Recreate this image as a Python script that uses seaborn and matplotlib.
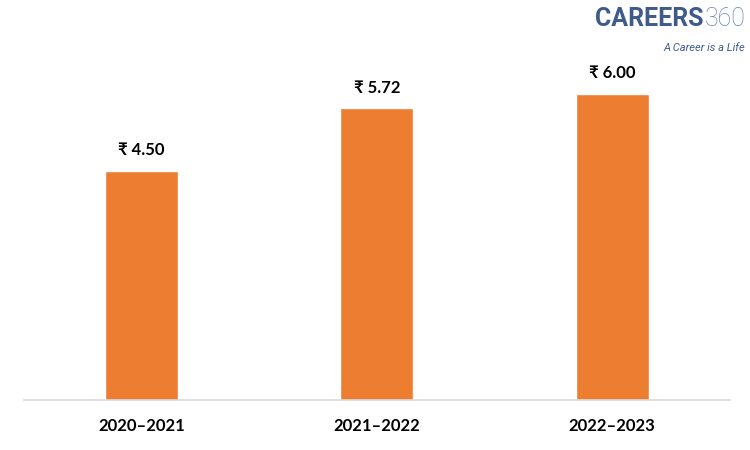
import seaborn as sns
import matplotlib.pyplot as plt
import pandas as pd

# Data
years = ["2020–2021", "2021–2022", "2022–2023"]
values = [4.50, 5.72, 6.00]

df = pd.DataFrame({"year": years, "value": values})

sns.set_style("white")
plt.rcParams['font.family'] = ['Lato', 'DejaVu Sans']

fig = plt.figure(figsize=(7.5, 4.5), dpi=100)
ax = fig.add_axes([0.032, 0.111, 0.941, 0.793])

sns.barplot(x="year", y="value", data=df, color="#ED7D31", saturation=1,
            width=0.31, ax=ax)

# Value labels
for i, v in enumerate(values):
    ax.text(i, v + 0.25, f"₹ {v:.2f}", ha="center", va="bottom",
            fontsize=12, fontweight="bold", color="black")

ax.set_xlim(-0.5, 2.5)
ax.set_ylim(0, 7)
ax.set_xlabel("")
ax.set_ylabel("")
ax.set_yticks([])
for s in ["top", "right", "left"]:
    ax.spines[s].set_visible(False)
ax.spines["bottom"].set_color("#D9D9D9")
ax.spines["bottom"].set_linewidth(1.2)
ax.tick_params(axis="x", length=0, pad=13)
for lbl in ax.get_xticklabels():
    lbl.set_fontsize(12)
    lbl.set_fontweight("bold")
    lbl.set_color("black")

# Logo
logo = fig.text(0.794, 0.957, "CAREERS", fontsize=18, fontweight="bold",
                color="#3F5B8C", family=["Roboto"],
                ha="left", va="center")
fig.canvas.draw()
bb = logo.get_window_extent(renderer=fig.canvas.get_renderer())
x_end = bb.x1 / fig.bbox.width
fig.text(x_end + 0.001, 0.957, "360", fontsize=18, fontweight="light",
         color="#6B82AA", family=["Roboto"], ha="left", va="center")
fig.text(0.994, 0.893, "A Career is a Life", fontsize=8, style="italic",
         color="#3F5B8C", family=["Roboto"],
         ha="right", va="center")

plt.savefig("out.png", dpi=100)
